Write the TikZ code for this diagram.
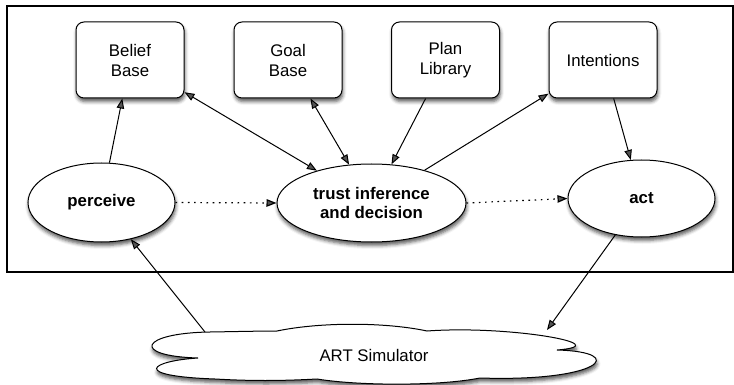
\documentclass[tikz,border=0pt]{standalone}
\usepackage{fontspec}
\setmainfont{Liberation Sans}
\usetikzlibrary{arrows.meta,shapes.geometric,shadows.blur}

\begin{document}
\begin{tikzpicture}[x=1pt,y=-1pt,
  every node/.style={font=\fontsize{16.8}{20}\selectfont},
  soft/.style={blur shadow={shadow xshift=0.8pt,shadow yshift=-3.5pt,
      shadow blur radius=3.5pt,shadow opacity=65}},
  store/.style={draw,line width=1pt,rounded corners=8pt,fill=white,
      minimum width=108pt,minimum height=76pt,align=center,inner sep=0pt,soft},
  proc/.style={ellipse,draw,line width=1pt,fill=white,align=center,
      inner sep=0pt,soft,font=\fontsize{16.8}{18.5}\selectfont\bfseries},
  arr/.style={line width=1pt,-{Triangle[length=10pt,width=7.5pt]}},
  biarr/.style={line width=1pt,{Triangle[length=10pt,width=7.5pt]}-{Triangle[length=10pt,width=7.5pt]}},
  flow/.style={line width=1.2pt,dash pattern=on 1.6pt off 4.6pt,
      -{Triangle[length=10pt,width=7.5pt]}}
]
\useasboundingbox (0,0) rectangle (734,385);

% agent frame
\draw[line width=1.1pt] (7,6) rectangle (733,272);

% knowledge stores
\node[store] (belief) at (130,60) {Belief\\Base};
\node[store] (goal)   at (288,60) {Goal\\Base};
\node[store] (plan)   at (445.5,60) {Plan\\Library};
\node[store] (intent) at (603,60) {Intentions};

% reasoning cycle
\node[proc,minimum width=147pt,minimum height=79pt] (perceive) at (101.5,202.5) {perceive};
\node[proc,minimum width=189pt,minimum height=78pt] (trust) at (371.5,203) {trust inference\\and decision};
\node[proc,minimum width=147pt,minimum height=77pt] (act) at (641.5,198.5) {act};

% environment
\draw[line width=1pt,fill=white,soft]
  (198,358) .. controls (130,356) and (140,333) .. (210,332)
            .. controls (240,331.5) and (262,331) .. (277,331)
            .. controls (320,322) and (385,322) .. (427,331)
            .. controls (510,325) and (620,345) .. (557,350)
            .. controls (630,352) and (600,382) .. (480,378)
            .. controls (440,386) and (360,386) .. (317,379)
            .. controls (280,381) and (250,381) .. (215,379)
            .. controls (130,376) and (150,361) .. cycle;
\node (sim) at (374,355) {ART Simulator};
\coordinate (simin)  at (205,332);
\coordinate (simout) at (547,330);

% connectors
\draw[arr] (perceive) -- (belief);
\draw[biarr] (belief) -- (trust);
\draw[biarr] (goal) -- (trust);
\draw[arr] (plan) -- (trust);
\draw[arr] (trust) -- (intent);
\draw[arr] (intent) -- (act);
\draw[flow] (perceive.east) -- (trust.west);
\draw[flow] (trust.east) -- (act.west);
\draw[arr] (simin) -- (perceive);
\draw[arr] (act) -- (simout);
\end{tikzpicture}
\end{document}
